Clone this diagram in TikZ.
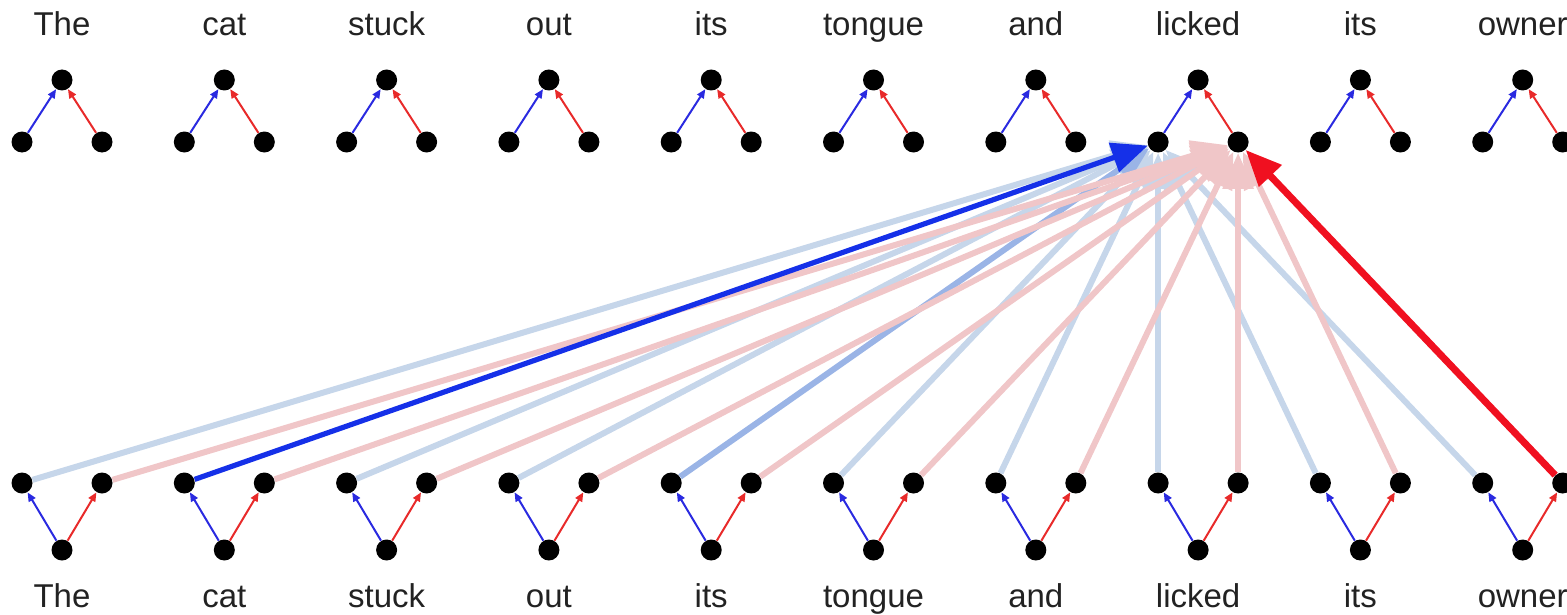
\documentclass[tikz,border=0pt]{standalone}
\usepackage{fontspec}
\setmainfont{Liberation Sans}
\usetikzlibrary{arrows.meta}
\definecolor{wordgray}{HTML}{222222}
\definecolor{dotblue}{HTML}{2A2AE0}
\definecolor{dotred}{HTML}{E82A2A}
\definecolor{paleblue}{HTML}{C6D6EA}
\definecolor{palepink}{HTML}{F0C6C8}
\definecolor{midblue}{HTML}{9AB4E6}
\definecolor{strongblue}{HTML}{1530E8}
\definecolor{strongred}{HTML}{F01020}
\begin{document}
\begin{tikzpicture}[x=0.5pt,y=-0.5pt,
  dot/.style={circle,fill=black,inner sep=0pt,minimum size=10.5pt},
  word/.style={font=\fontsize{16.5}{18}\selectfont,text=wordgray,inner sep=0pt,anchor=base},
  smallarrow/.style={line width=1pt,-{Triangle[length=4.5pt,width=3.8pt]}},
  bigarrow/.style={-{Triangle[length=18pt,width=15pt]}},
  paleb/.style={bigarrow,draw=paleblue,fill=paleblue,line width=3pt},
  palep/.style={bigarrow,draw=palepink,fill=palepink,line width=3pt},
  midb/.style={bigarrow,draw=midblue,fill=midblue,line width=3pt},
  strongb/.style={bigarrow,draw=strongblue,fill=strongblue,line width=2.6pt},
  strongr/.style={bigarrow,draw=strongred,fill=strongred,line width=3.5pt}]
\useasboundingbox (0,0) rectangle (1567,615);
\clip (0,0) rectangle (1567,615);
\foreach \w [count=\i] in {The,cat,stuck,out,its,tongue,and,licked,its,owner}{
  \pgfmathsetmacro\cx{62+162.3*(\i-1)}
  \node[word] (tw\i) at (\cx,36) {\w};
  \node[word] (bw\i) at (\cx,607) {\w};
  \node[dot] (tA\i) at (\cx,80) {};
  \node[dot] (tL\i) at (\cx-40,142) {};
  \node[dot] (tR\i) at (\cx+40,142) {};
  \node[dot] (bL\i) at (\cx-40,483) {};
  \node[dot] (bR\i) at (\cx+40,483) {};
  \node[dot] (bA\i) at (\cx,550) {};
  \draw[smallarrow,draw=dotblue,fill=dotblue] (tL\i) -- (tA\i);
  \draw[smallarrow,draw=dotred,fill=dotred] (tR\i) -- (tA\i);
  \draw[smallarrow,draw=dotblue,fill=dotblue] (bA\i) -- (bL\i);
  \draw[smallarrow,draw=dotred,fill=dotred] (bA\i) -- (bR\i);
}
\foreach \i in {1,3,4,6,7,8,9,10}{
  \draw[paleb] (bL\i) -- (tL8);
}
\draw[midb] (bL5) -- (tL8);
\foreach \i in {1,...,9}{
  \draw[palep] (bR\i) -- (tR8);
}
\draw[strongb] (bL2) -- (tL8);
\draw[strongr] (bR10) -- (tR8);
\end{tikzpicture}
\end{document}
